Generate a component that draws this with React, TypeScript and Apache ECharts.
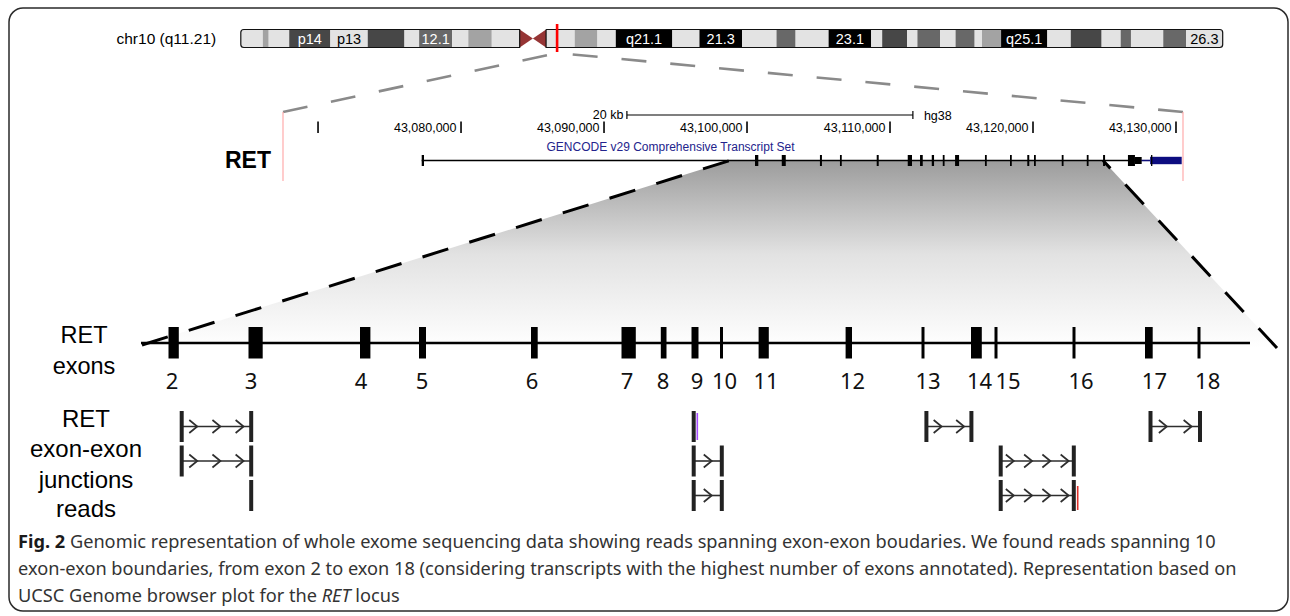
import React, { useEffect, useRef } from "react";
import * as echarts from "echarts";

const FONT_UCSC = "'Liberation Sans', Arial, Helvetica, sans-serif";
const FONT_FIG = "'Noto Sans', 'Open Sans', sans-serif";

// ---------------- chromosome ideogram (chr10, Mb) ----------------
const chromLabel = "chr10 (q11.21)";
const chromLengthMb = 133.8;
const centromereMb = 39.8;
const bandStart = [0, 3.0, 3.8, 6.6, 12.2, 17.3, 22.3, 24.3, 28.8, 31.0, 34.2, 38.0, 39.8, 41.6, 45.5, 48.6, 51.1, 58.8, 62.5, 68.3, 73.0, 75.6, 80.1, 85.9, 87.4, 90.8, 92.2, 95.3, 97.4, 100.0, 101.0, 103.6, 109.9, 113.1, 117.3, 119.9, 121.3, 125.7, 128.8];
const bandEnd = bandStart.slice(1).concat([chromLengthMb]);
const bandStain = ["gneg", "gpos25", "gneg", "gpos75", "gneg", "gpos75", "gneg", "gpos50", "gneg", "gpos25", "gneg", "acen", "acen", "gneg", "gpos25", "gneg", "gpos100", "gneg", "gpos100", "gneg", "gpos50", "gneg", "gpos100", "gneg", "gpos75", "gneg", "gpos50", "gneg", "gpos50", "gneg", "gpos25", "gpos100", "gneg", "gpos75", "gneg", "gpos50", "gneg", "gpos50", "gneg"];
const bandLabel = ["", "", "", "p14", "p13", "", "", "12.1", "", "", "", "", "", "", "", "", "q21.1", "", "21.3", "", "", "", "23.1", "", "", "", "", "", "", "", "", "q25.1", "", "", "", "", "", "", "26.3"];
const armStart = [0, 41.6];
const armEnd = [38.0, 133.8];
const retLocusMb = 43.1;

// ---------------- genome browser track (hg38 bp) ----------------
const genomicMin = 43067550;
const genomicMax = 43130490;
const coordTicks = [43070000, 43080000, 43090000, 43100000, 43110000, 43120000, 43130000];
const coordTickLabels = ["", "43,080,000", "43,090,000", "43,100,000", "43,110,000", "43,120,000", "43,130,000"];
const scaleBarStart = 43091600;
const scaleBarEnd = 43111600;
const scaleBarLabel = "20 kb";
const assemblyLabel = "hg38";
const trackTitle = "GENCODE v29 Comprehensive Transcript Set";
const geneName = "RET";
const txStart = 43077250;
const txLineEnd = 43127600;
const txExonStart = [43077250, 43100560, 43102430, 43105100, 43106500, 43109070, 43111240, 43112100, 43112920, 43113690, 43114550, 43116640, 43118390, 43119600, 43120070, 43122010, 43123760, 43124900, 43126640];
const txExonEnd = [43077410, 43100790, 43102710, 43105240, 43106590, 43109210, 43111540, 43112290, 43113080, 43113780, 43114830, 43116760, 43118510, 43119740, 43120160, 43122080, 43123870, 43125040, 43127130];
const txUtrStart = [43127130];
const txUtrEnd = [43127600];
const tailLineStart = 43127600;
const tailBlockStart = 43128190;
const tailEnd = 43130400;
const tailTick = 43128300;

// ---------------- zoom connection ----------------
const zoomTopStart = 43098800;
const zoomTopEnd = 43124900;
const zoomBottomStart = -3;
const zoomBottomEnd = 1132;

// ---------------- exon schematic (schematic units) ----------------
const exonNumbers = ["2", "3", "4", "5", "6", "7", "8", "9", "10", "11", "12", "13", "14", "15", "16", "17", "18"];
const exonStartU = [23.5, 103.5, 215, 274, 386, 476.5, 515.8, 546.5, 575, 613.6, 700.6, 776.5, 826, 849.5, 927.5, 1000, 1052.5];
const exonEndU = [33.8, 117.7, 225.4, 281, 392.7, 490.8, 521.5, 553.5, 578, 623.8, 707, 779.5, 836.8, 852.5, 930.5, 1007.7, 1055.5];
const exonLabelU = [27, 106, 216, 277, 387, 482, 518, 552, 579.5, 621, 707.6, 783, 834.5, 863, 936, 1009.4, 1062.7];
const exonLineStart = -4;
const exonLineEnd = 1105;

// ---------------- junction reads ----------------
const readRow = [0, 0, 0, 0, 1, 1, 1, 2, 2, 2];
const readStartU = [36.7, 548.7, 781.4, 1005.5, 36.7, 548.7, 855.7, null, 548.7, 855.7];
const readEndU = [106.2, null, 826.4, 1055, 106.2, 576.8, 928.8, 106.2, 576.8, 928.8];
const readMark = ["", "purple", "", "", "", "", "", "", "", "red"];

// ---------------- texts ----------------
const exonTrackLabel = ["RET", "exons"];
const readTrackLabel = ["RET", "exon-exon", "junctions", "reads"];
const captionLines = [
  "{b|Fig. 2} Genomic representation of whole exome sequencing data showing reads spanning exon-exon boudaries. We found reads spanning 10",
  "exon-exon boundaries, from exon 2 to exon 18 (considering transcripts with the highest number of exons annotated). Representation based on",
  "UCSC Genome browser plot for the {i|RET} locus",
];

// ---------------- layout constants ----------------
const IDEO_TOP = 29.5;
const IDEO_H = 18;
const TX_Y = 160.5;
const EXON_TOP = 327;
const EXON_H = 31.5;
const EXON_LINE_Y = 343;
const EXON_LABEL_Y = 380;
const ROW_TOP = [411, 445.5, 480];
const ROW_H = 31;
const CAPTION_SIZE = 18.2;

const stainColor: Record<string, string> = {
  gneg: "#e3e3e3", gpos25: "#a3a3a3", gpos50: "#686868", gpos75: "#474747", gpos100: "#000000", acen: "#963535",
};
const stainText: Record<string, string> = {
  gneg: "#000", gpos25: "#000", gpos50: "#fff", gpos75: "#fff", gpos100: "#fff",
};

function txt(text: string, x: number, y: number, size: number, opts: any = {}) {
  return {
    type: "text",
    style: {
      text, x, y,
      fontSize: size,
      fontFamily: opts.family || FONT_UCSC,
      fontWeight: opts.weight || "normal",
      fill: opts.fill || "#000",
      align: opts.align || "left",
      verticalAlign: "middle",
      rich: opts.rich,
    },
    z: opts.z || 5,
  };
}

function buildOption() {
  const axisBase = { type: "value", show: false };
  return {
    animation: false,
    backgroundColor: "#ffffff",
    grid: [
      { left: 240.8, top: IDEO_TOP, width: 981.9, height: IDEO_H },
      { left: 283, top: 100, width: 900, height: 80 },
      { left: 145, top: 320, width: 1130, height: 200 },
    ],
    xAxis: [
      { ...axisBase, gridIndex: 0, min: 0, max: chromLengthMb },
      { ...axisBase, gridIndex: 1, min: genomicMin, max: genomicMax },
      { ...axisBase, gridIndex: 2, min: 0, max: 1130 },
    ],
    yAxis: [0, 1, 2].map((g) => ({ ...axisBase, gridIndex: g, min: 0, max: 1 })),
    series: [
      // ideogram bands
      {
        type: "custom", xAxisIndex: 0, yAxisIndex: 0, z: 3,
        data: bandStart.map((s, i) => [s, 0, i]),
        renderItem: (p: any, api: any) => {
          const i = api.value(2);
          const x0 = api.coord([bandStart[i], 0])[0];
          const x1 = api.coord([bandEnd[i], 0])[0];
          const st = bandStain[i];
          const mid = IDEO_TOP + IDEO_H / 2;
          if (st === "acen") {
            const isP = bandStart[i] < centromereMb;
            const points = isP
              ? [[x0, IDEO_TOP], [x1, mid], [x0, IDEO_TOP + IDEO_H]]
              : [[x0, mid], [x1, IDEO_TOP], [x1, IDEO_TOP + IDEO_H]];
            return { type: "polygon", shape: { points }, style: { fill: stainColor.acen } };
          }
          const r = i === 0 ? [3, 0, 0, 3] : i === bandStart.length - 1 ? [0, 3, 3, 0] : 0;
          const children: any[] = [
            { type: "rect", shape: { x: x0, y: IDEO_TOP, width: x1 - x0, height: IDEO_H, r }, style: { fill: stainColor[st] } },
          ];
          if (bandLabel[i]) {
            children.push(txt(bandLabel[i], (x0 + x1) / 2, mid + 0.5, 14.5, { align: "center", fill: stainText[st] }));
          }
          return { type: "group", children };
        },
      },
      // arm outlines
      {
        type: "custom", xAxisIndex: 0, yAxisIndex: 0, z: 4,
        data: armStart.map((s, i) => [s, 0, i]),
        renderItem: (p: any, api: any) => {
          const i = api.value(2);
          const x0 = api.coord([armStart[i], 0])[0];
          const x1 = api.coord([armEnd[i], 0])[0];
          return {
            type: "rect",
            shape: { x: x0, y: IDEO_TOP, width: x1 - x0, height: IDEO_H, r: i === 0 ? [3, 0, 0, 3] : [0, 3, 3, 0] },
            style: { fill: "none", stroke: "#111", lineWidth: 1.2 },
          };
        },
      },
      // RET locus marker
      {
        type: "custom", xAxisIndex: 0, yAxisIndex: 0, z: 6,
        data: [[retLocusMb, 0]],
        renderItem: (p: any, api: any) => {
          const x = api.coord([api.value(0), 0])[0];
          return { type: "line", shape: { x1: x, y1: 24, x2: x, y2: 52 }, style: { stroke: "#ff0000", lineWidth: 2.6 } };
        },
      },
      // base-position ticks
      {
        type: "custom", xAxisIndex: 1, yAxisIndex: 1, z: 5,
        data: coordTicks.map((t, i) => [t, 0, i]),
        renderItem: (p: any, api: any) => {
          const i = api.value(2);
          const x = api.coord([coordTicks[i], 0])[0];
          const children: any[] = [
            { type: "line", shape: { x1: x, y1: 121.5, x2: x, y2: 133 }, style: { stroke: "#000", lineWidth: 1.6 } },
          ];
          if (coordTickLabels[i]) children.push(txt(coordTickLabels[i], x - 4.5, 128, 12.5, { align: "right" }));
          return { type: "group", children };
        },
      },
      // scale bar
      {
        type: "custom", xAxisIndex: 1, yAxisIndex: 1, z: 5,
        data: [[scaleBarStart, 0, scaleBarEnd]],
        renderItem: (p: any, api: any) => {
          const x0 = api.coord([api.value(0), 0])[0];
          const x1 = api.coord([api.value(2), 0])[0];
          const y = 115;
          const s = { stroke: "#000", lineWidth: 1.2 };
          return {
            type: "group",
            children: [
              { type: "line", shape: { x1: x0, y1: y, x2: x1, y2: y }, style: s },
              { type: "line", shape: { x1: x0, y1: y - 4, x2: x0, y2: y + 4 }, style: s },
              { type: "line", shape: { x1: x1, y1: y - 4, x2: x1, y2: y + 4 }, style: s },
              txt(scaleBarLabel, x0 - 3.5, y, 12.5, { align: "right" }),
              txt(assemblyLabel, x1 + 11, y + 1, 12.5, {}),
            ],
          };
        },
      },
      // transcript backbone
      {
        type: "custom", xAxisIndex: 1, yAxisIndex: 1, z: 5,
        data: [[txStart, 0, txLineEnd]],
        renderItem: (p: any, api: any) => {
          const x0 = api.coord([api.value(0), 0])[0];
          const x1 = api.coord([api.value(2), 0])[0];
          return { type: "line", shape: { x1: x0, y1: TX_Y, x2: x1, y2: TX_Y }, style: { stroke: "#000", lineWidth: 1.5 } };
        },
      },
      // transcript exons
      {
        type: "custom", xAxisIndex: 1, yAxisIndex: 1, z: 6,
        data: txExonStart.map((s, i) => [s, 0, i]),
        renderItem: (p: any, api: any) => {
          const i = api.value(2);
          const x0 = api.coord([txExonStart[i], 0])[0];
          const x1 = api.coord([txExonEnd[i], 0])[0];
          const w = Math.max(1.8, x1 - x0);
          return { type: "rect", shape: { x: x0, y: TX_Y - 5.5, width: w, height: 11 }, style: { fill: "#000" } };
        },
      },
      // UTR
      {
        type: "custom", xAxisIndex: 1, yAxisIndex: 1, z: 6,
        data: txUtrStart.map((s, i) => [s, 0, i]),
        renderItem: (p: any, api: any) => {
          const i = api.value(2);
          const x0 = api.coord([txUtrStart[i], 0])[0];
          const x1 = api.coord([txUtrEnd[i], 0])[0];
          return { type: "rect", shape: { x: x0, y: TX_Y - 3.5, width: x1 - x0, height: 7 }, style: { fill: "#000" } };
        },
      },
      // navy 3' tail
      {
        type: "custom", xAxisIndex: 1, yAxisIndex: 1, z: 6,
        data: [[tailLineStart, 0]],
        renderItem: (p: any, api: any) => {
          const a = api.coord([tailLineStart, 0])[0];
          const b = api.coord([tailBlockStart, 0])[0];
          const c = api.coord([tailEnd, 0])[0];
          const t = api.coord([tailTick, 0])[0];
          return {
            type: "group",
            children: [
              { type: "line", shape: { x1: a, y1: TX_Y, x2: b, y2: TX_Y }, style: { stroke: "#10107a", lineWidth: 1.6 } },
              { type: "rect", shape: { x: b, y: TX_Y - 3.7, width: c - b, height: 7.4 }, style: { fill: "#0d0d80" } },
              { type: "line", shape: { x1: t, y1: TX_Y - 5.5, x2: t, y2: TX_Y + 5.5 }, style: { stroke: "#000", lineWidth: 1.3 } },
            ],
          };
        },
      },
      // exon schematic backbone
      {
        type: "custom", xAxisIndex: 2, yAxisIndex: 2, z: 5,
        data: [[exonLineStart, 0, exonLineEnd]],
        renderItem: (p: any, api: any) => {
          const x0 = api.coord([api.value(0), 0])[0];
          const x1 = api.coord([api.value(2), 0])[0];
          return { type: "line", shape: { x1: x0, y1: EXON_LINE_Y, x2: x1, y2: EXON_LINE_Y }, style: { stroke: "#000", lineWidth: 2.6 } };
        },
      },
      // exon schematic boxes + numbers
      {
        type: "custom", xAxisIndex: 2, yAxisIndex: 2, z: 6,
        data: exonStartU.map((s, i) => [s, 0, i]),
        renderItem: (p: any, api: any) => {
          const i = api.value(2);
          const x0 = api.coord([exonStartU[i], 0])[0];
          const x1 = api.coord([exonEndU[i], 0])[0];
          const xl = api.coord([exonLabelU[i], 0])[0];
          return {
            type: "group",
            children: [
              { type: "rect", shape: { x: x0, y: EXON_TOP, width: Math.max(3, x1 - x0), height: EXON_H }, style: { fill: "#000" } },
              txt(exonNumbers[i], xl, EXON_LABEL_Y, 22, { align: "center", family: FONT_FIG, fill: "#111" }),
            ],
          };
        },
      },
      // junction reads
      {
        type: "custom", xAxisIndex: 2, yAxisIndex: 2, z: 6,
        data: readRow.map((r, i) => [readStartU[i] ?? readEndU[i], 0, i]),
        renderItem: (p: any, api: any) => {
          const i = api.value(2);
          const top = ROW_TOP[readRow[i]];
          const mid = top + ROW_H / 2;
          const s = readStartU[i];
          const e = readEndU[i];
          const xs = s == null ? null : api.coord([s, 0])[0];
          const xe = e == null ? null : api.coord([e, 0])[0];
          const children: any[] = [];
          if (xs != null && xe != null) {
            children.push({ type: "line", shape: { x1: xs, y1: mid, x2: xe, y2: mid }, style: { stroke: "#2e2e2e", lineWidth: 1.6 } });
            const n = Math.max(1, Math.floor((xe - xs - 10) / 15));
            const step = (xe - xs) / n;
            for (let k = 0; k < n; k++) {
              const cx = xs + (k + 0.5) * step;
              children.push({
                type: "polyline",
                shape: { points: [[cx - 4, mid - 6.5], [cx + 4, mid], [cx - 4, mid + 6.5]] },
                style: { stroke: "#2e2e2e", lineWidth: 1.7, fill: "none" },
              });
            }
          }
          if (xs != null) children.push({ type: "rect", shape: { x: xs - 2, y: top, width: 4, height: ROW_H }, style: { fill: "#222" } });
          if (xe != null) children.push({ type: "rect", shape: { x: xe - 2, y: top, width: 4, height: ROW_H }, style: { fill: "#222" } });
          if (readMark[i] === "purple" && xs != null) {
            children.push({ type: "line", shape: { x1: xs + 3.6, y1: top + 2, x2: xs + 3.6, y2: top + ROW_H - 2 }, style: { stroke: "#a64dff", lineWidth: 1.6 } });
          }
          if (readMark[i] === "red" && xe != null) {
            children.push({ type: "line", shape: { x1: xe + 3.9, y1: top + 6, x2: xe + 3.9, y2: top + ROW_H - 1 }, style: { stroke: "#e0302a", lineWidth: 1.6 } });
          }
          return { type: "group", children };
        },
      },
    ],
  };
}

function buildGraphic(chart: any) {
  const px = (axis: number, v: number) => chart.convertToPixel({ xAxisIndex: axis }, v) as number;
  const redX = px(0, retLocusMb);
  const viewL = px(1, genomicMin);
  const viewR = px(1, genomicMax);
  const zTL = px(1, zoomTopStart);
  const zTR = px(1, zoomTopEnd);
  const zBL = px(2, zoomBottomStart);
  const zBR = px(2, zoomBottomEnd);
  const botL = 345;
  const botR = 348;
  const els: any[] = [];
  // outer frame
  els.push({ type: "rect", shape: { x: 9, y: 8, width: 1279, height: 603, r: 14 }, style: { fill: "none", stroke: "#2a2a2a", lineWidth: 1.5 }, z: 1 });
  // zoom gradient
  els.push({
    type: "polygon",
    shape: { points: [[zTL, TX_Y], [zTR, TX_Y], [zBR, botR], [zBL, botL]] },
    style: {
      fill: {
        type: "linear", x: 0, y: 0, x2: 0, y2: 1,
        colorStops: [
          { offset: 0, color: "#9c9c9c" },
          { offset: 0.5, color: "#e2e2e2" },
          { offset: 1, color: "#ffffff" },
        ],
      },
    },
    z: 0,
  });
  const blackDash = { stroke: "#000", lineWidth: 3, lineDash: [27, 22] };
  els.push({ type: "line", shape: { x1: zBL, y1: botL, x2: zTL, y2: TX_Y }, style: blackDash, z: 1 });
  els.push({ type: "line", shape: { x1: zBR, y1: botR, x2: zTR, y2: TX_Y }, style: blackDash, z: 1 });
  // chromosome -> browser view lines
  const greyDash = { stroke: "#8a8a8a", lineWidth: 2.6, lineDash: [25, 24] };
  els.push({ type: "line", shape: { x1: viewL, y1: 112, x2: redX, y2: 53 }, style: greyDash, z: 1 });
  els.push({ type: "line", shape: { x1: viewR, y1: 112, x2: redX, y2: 53 }, style: greyDash, z: 1 });
  const pink = { stroke: "#ffabab", lineWidth: 1.2 };
  els.push({ type: "line", shape: { x1: viewL, y1: 112, x2: viewL, y2: 181 }, style: pink, z: 1 });
  els.push({ type: "line", shape: { x1: viewR, y1: 112, x2: viewR, y2: 181 }, style: pink, z: 1 });
  // texts
  els.push(txt(chromLabel, 116.5, 38.5, 15.5, {}));
  els.push(txt(trackTitle, 546.5, 147.3, 12, { fill: "#23238c" }));
  els.push(txt(geneName, 271, 160, 23, { weight: "bold", align: "right" }));
  els.push(txt(exonTrackLabel[0], 84, 335, 23.5, { align: "center" }));
  els.push(txt(exonTrackLabel[1], 84, 366, 23.5, { align: "center" }));
  const readY = [418, 448, 479, 508];
  readTrackLabel.forEach((t, k) => els.push(txt(t, 86, readY[k], 24, { align: "center" })));
  const capY = [541, 568, 595];
  const rich = {
    b: { fontWeight: "bold", fontFamily: FONT_FIG, fontSize: CAPTION_SIZE, fill: "#1a1a1a" },
    i: { fontStyle: "italic", fontFamily: FONT_FIG, fontSize: CAPTION_SIZE, fill: "#333" },
  };
  captionLines.forEach((t, k) => els.push(txt(t, 18, capY[k], CAPTION_SIZE, { family: FONT_FIG, fill: "#333", rich })));
  return els;
}

export default function App() {
  const ref = useRef<HTMLDivElement>(null);
  useEffect(() => {
    if (!ref.current) return;
    const chart = echarts.init(ref.current, null, { renderer: "svg" });
    chart.setOption(buildOption() as any);
    chart.setOption({ graphic: buildGraphic(chart) } as any);
    return () => chart.dispose();
  }, []);
  return (
    <div
      ref={ref}
      style={{ position: "absolute", left: 0, top: 0, width: 1290, height: 616, background: "#fff" }}
    />
  );
}
